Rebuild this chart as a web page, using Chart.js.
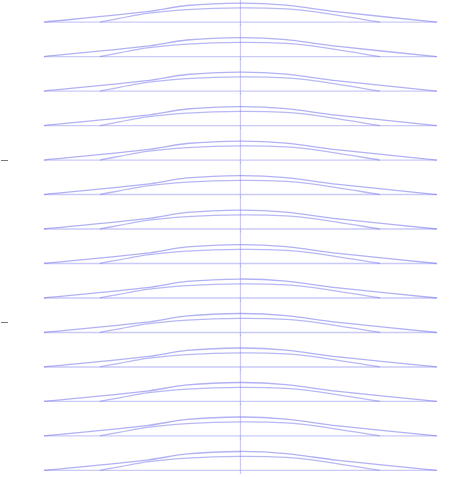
<!DOCTYPE html>
<html>
<head>
<meta charset="utf-8">
<script src="https://cdn.jsdelivr.net/npm/chart.js@4/dist/chart.umd.min.js"></script>
<style>
html,body{margin:0;padding:0;background:#fff;}
#wrap{width:466px;height:477px;position:relative;}
</style>
</head>
<body>
<div id="wrap"><canvas id="c"></canvas></div>
<script>
// row positions (top to bottom)
var rows = [0, 1, 2, 3, 4, 5, 6, 7, 8, 9, 10, 11, 12, 13];
// outer profile
var outerX = [-1.0, -0.476, -0.272, 0.0, 0.232, 0.486, 1.0];
var outerH = [0, 0.30, 0.48, 0.55, 0.49, 0.30, 0];
// inner profile
var innerX = [-0.715, -0.476, -0.272, 0.0, 0.232, 0.4, 0.71];
var innerH = [0, 0.25, 0.36, 0.41, 0.38, 0.28, 0];
// baseline span and centre mark
var baseX = [-1.0, 1.0];
var centreSpan = [-0.95, 0.1];
var yTicks = [4, 8.72];

(function(){
    var datasets = [];
    function line(pts, color, w, t){
        return {data: pts, borderColor: color, borderWidth: w, pointRadius: 0, showLine: true,
            fill: false, tension: t};
    }
    rows.forEach(function(r){
        datasets.push(line(outerX.map((x, i) => ({x: x, y: r - outerH[i]})), "rgba(125,125,235,0.6)", 1.3, 0.25));
        datasets.push(line(innerX.map((x, i) => ({x: x, y: r - innerH[i]})), "rgba(125,125,235,0.55)", 1.3, 0.25));
        datasets.push(line(baseX.map(x => ({x: x, y: r})), "rgba(150,150,240,0.5)", 1.3, 0));
        datasets.push(line(centreSpan.map(d => ({x: 0, y: r + d})), "rgba(150,150,235,0.5)", 1.2, 0));
    });

    new Chart(document.getElementById("c"), {
        type: "scatter",
        data: {datasets: datasets},
        options: {
            responsive: true,
            maintainAspectRatio: false,
            animation: false,
            layout: {padding: 0},
            plugins: {legend: {display: false}, tooltip: {enabled: false}},
            scales: {
                x: {
                    type: "linear", min: -1.183, max: 1.148, display: false
                },
                y: {
                    type: "linear", reverse: true, min: -0.64, max: 13.19,
                    afterBuildTicks: function(s){ s.ticks = yTicks.map(v => ({value: v})); },
                    afterFit: function(s){ s.width = 8; },
                    border: {display: false},
                    grid: {drawOnChartArea: false, drawTicks: true, tickLength: 7, color: "#7a7a7a"},
                    ticks: {display: false}
                }
            }
        }
    });
})();
</script>
</body>
</html>
